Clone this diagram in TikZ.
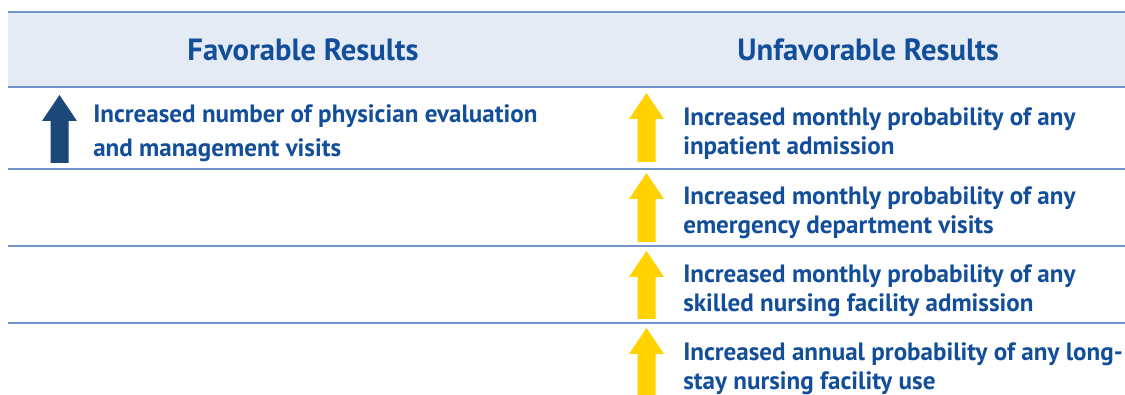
\documentclass[tikz,border=0pt]{standalone}
\usepackage{fontspec}
\setmainfont{PT Sans}
\definecolor{txtblue}{HTML}{124E99}
\definecolor{bandblue}{HTML}{E4EBF4}
\definecolor{ruleblue}{HTML}{7094C8}
\definecolor{darkarrow}{HTML}{1B4878}
\definecolor{yelarrow}{HTML}{FFD200}
\newcommand{\myuparrow}[4]{% x, top, bottom, colour
  \fill[#4] (#1-17.5,#2+26) -- (#1,#2) -- (#1+17.5,#2+26) -- (#1+9,#2+26) -- (#1+9,#3) -- (#1-9,#3) -- (#1-9,#2+26) -- cycle;}
\begin{document}
\begin{tikzpicture}[x=0.75pt,y=-0.75pt,
  rowrule/.style={draw=ruleblue,line width=1.1pt},
  headtxt/.style={font=\bfseries\fontsize{23}{27}\selectfont,text=txtblue,inner sep=0pt},
  celltxt/.style={font=\bfseries\fontsize{18.8}{21.75}\selectfont,text=txtblue,inner sep=0pt,align=left,anchor=base west},
  celltxtwide/.style={celltxt,font=\bfseries\fontsize{18.8}{25.5}\selectfont}]
\useasboundingbox[fill=white] (0,0) rectangle (1125,395);
\fill[bandblue] (8,12) rectangle (1125,87);
\coordinate (r0l) at (8,12);   \coordinate (r0r) at (1125,12);
\coordinate (r1l) at (8,87);   \coordinate (r1r) at (1125,87);
\coordinate (r2l) at (8,169);  \coordinate (r2r) at (1125,169);
\coordinate (r3l) at (8,246);  \coordinate (r3r) at (1125,246);
\coordinate (r4l) at (8,323);  \coordinate (r4r) at (1125,323);
\draw[rowrule] (r0l) -- (r0r);
\draw[rowrule] (r1l) -- (r1r);
\draw[rowrule] (r2l) -- (r2r);
\draw[rowrule] (r3l) -- (r3r);
\draw[rowrule] (r4l) -- (r4r);
\node[headtxt] (hfav) at (303,50) {Favorable Results};
\node[headtxt] (hunf) at (868,50) {Unfavorable Results};
\myuparrow{59.5}{95}{163}{darkarrow}
\myuparrow{646.5}{93}{162}{yelarrow}
\myuparrow{646.5}{173}{242}{yelarrow}
\myuparrow{646.5}{251}{319}{yelarrow}
\myuparrow{646.5}{328}{396}{yelarrow}
\node[celltxtwide] (f1) at (93,157) {Increased number of physician evaluation\\and management visits};
\node[celltxt] (u1) at (683,155) {Increased monthly probability of any\\inpatient admission};
\node[celltxt] (u2) at (683,233.5) {Increased monthly probability of any\\emergency department visits};
\node[celltxt] (u3) at (683,311.5) {Increased monthly probability of any\\skilled nursing facility admission};
\node[celltxt] (u4) at (683,389) {Increased annual probability of any long-\\stay nursing facility use};
\end{tikzpicture}
\end{document}
